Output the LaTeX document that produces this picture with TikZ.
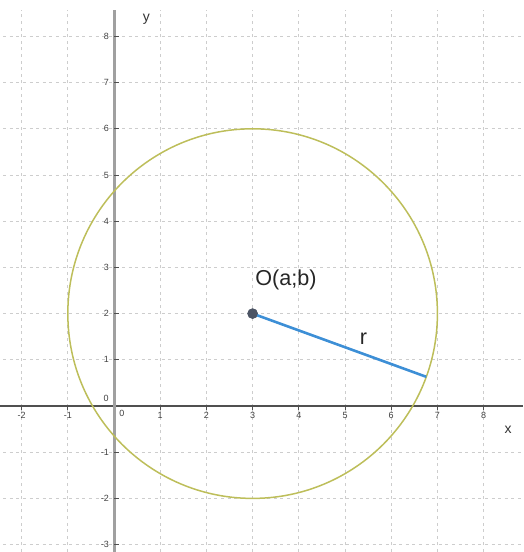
\documentclass[tikz,border=0pt]{standalone}
\usepackage{fontspec}
\setmainfont{Liberation Sans}
\usetikzlibrary{calc}
\definecolor{gridc}{HTML}{CDCDCD}
\definecolor{yaxc}{HTML}{A0A0A0}
\definecolor{xaxc}{HTML}{505050}
\definecolor{circc}{HTML}{BDBE5A}
\definecolor{radc}{HTML}{3D8FD6}
\definecolor{dotc}{HTML}{4C5464}
\begin{document}
\begin{tikzpicture}[x=23.1pt,y=23.1pt,
  gridline/.style={gridc,line width=0.45pt,dash pattern=on 1.5pt off 1.8pt},
  ticklab/.style={font=\fontsize{4.5}{5}\selectfont,text=black!75,inner sep=0pt},
  axlab/.style={font=\fontsize{7}{8}\selectfont,text=black!80,inner sep=0pt},
  biglab/.style={font=\fontsize{10.8}{12}\selectfont,text=black!85,inner sep=0pt}]
\useasboundingbox (-2.468,-3.160) rectangle (8.853,8.788);
% grid
\foreach \i in {-2,-1,...,8}{\draw[gridline] (\i,-3.16) -- (\i,8.57);}
\foreach \j in {-3,-2,...,8}{\draw[gridline] (-2.4,\j) -- (8.853,\j);}
% axes
\draw[xaxc,line width=0.55pt] (-2.468,0) -- (8.853,0);
\draw[yaxc,line width=1.5pt] (0,-3.16) -- (0,8.57);
% ticks
\foreach \j in {-3,-2,-1,1,2,3,4,5,6,7,8}{\draw[xaxc,line width=0.4pt] (0,\j) -- (0.1,\j);}
\foreach \i in {-2,-1,1,2,3,4,5,6,7,8}{\draw[xaxc,line width=0.4pt] (\i,0) -- (\i,-0.08);}
% tick labels
\foreach \j in {-3,-2,-1,1,2,3,4,5,6,7,8}{\node[ticklab,anchor=east] at (-0.1,\j) {\j};}
\foreach \i in {-2,-1,1,2,3,4,5,6,7,8}{\node[ticklab,anchor=north] at (\i,-0.12) {\i};}
\node[ticklab] (z1) at (-0.17,0.17) {0};
\node[ticklab] (z2) at (0.17,-0.17) {0};
% axis labels
\node[axlab] (xl) at (8.53,-0.52) {x};
\node[axlab] (yl) at (0.7,8.38) {y};
% circle
\draw[circc,line width=0.75pt] (3,2) circle (4);
% radius
\coordinate (P) at ($(3,2)+(-20:4)$);
\node[circle,fill=dotc,inner sep=0pt,minimum size=5.2pt] (O) at (3,2) {};
\draw[radc,line width=1.3pt] (O.center) -- (P);
\fill[dotc] (O) circle (2.6pt);
\node[biglab] (Ol) at (3.72,2.73) {O(a;b)};
\node[biglab] (rl) at (5.4,1.45) {r};
\end{tikzpicture}
\end{document}
